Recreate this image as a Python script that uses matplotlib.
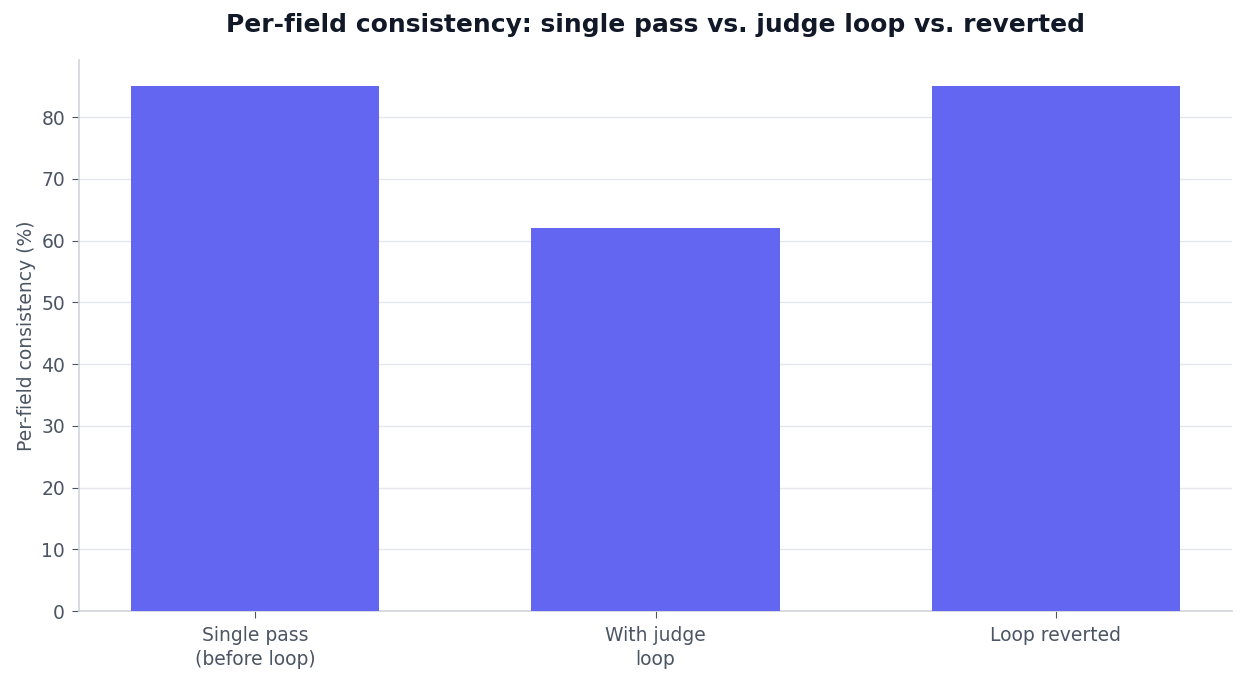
import matplotlib
matplotlib.use("Agg")
import matplotlib.pyplot as plt

plt.rcParams['font.family'] = ['DejaVu Sans']

categories = ["Single pass\n(before loop)", "With judge\nloop", "Loop reverted"]
consistency = [85, 62, 85]

fig, ax = plt.subplots(figsize=(12.46, 6.86), dpi=100)
ax.bar(range(len(categories)), consistency, width=0.62, color="#6366F1", zorder=3)

ax.set_xticks(range(len(categories)))
ax.set_xticklabels(categories, linespacing=1.3)
ax.set_ylabel("Per-field consistency (%)", fontsize=13.5, color="#4B5563")
ax.set_title("Per-field consistency: single pass vs. judge loop vs. reverted",
             fontsize=18, fontweight="bold", color="#111827", pad=20)

ax.grid(axis="y", color="#E5E7EB", linewidth=1, zorder=0)
ax.tick_params(axis="both", colors="#4B5563", labelsize=13.5, length=5, pad=5)
ax.tick_params(axis="x", pad=6)
for side in ["top", "right"]:
    ax.spines[side].set_visible(False)
for side in ["left", "bottom"]:
    ax.spines[side].set_color("#D1D5DB")
    ax.spines[side].set_linewidth(1.2)

# axes box placed to match the reference layout
fig.subplots_adjust(left=0.0634, right=0.9888, top=0.9125, bottom=0.1093)
plt.savefig("out.png")
